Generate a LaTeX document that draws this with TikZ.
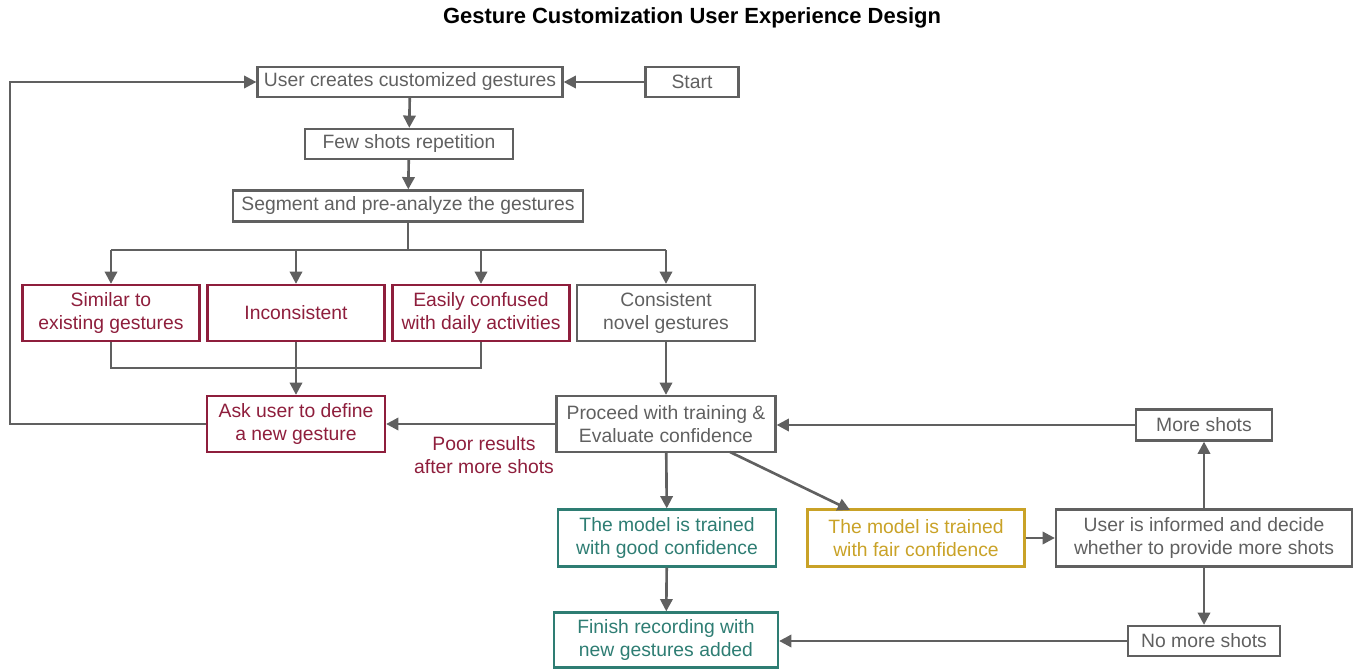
\documentclass[tikz,border=0pt]{standalone}
\usepackage{fontspec}
\setmainfont{Liberation Sans}
\usetikzlibrary{arrows.meta}
\definecolor{boxgray}{HTML}{606060}
\definecolor{badred}{HTML}{8E1E3C}
\definecolor{goodteal}{HTML}{2E7D73}
\definecolor{fairgold}{HTML}{C9A227}

\begin{document}
\begin{tikzpicture}[x=0.02cm,y=-0.02cm,
    box/.style={draw=boxgray,text=boxgray,line width=1.3pt,align=center,inner sep=0pt,
      font=\fontsize{11}{13}\selectfont},
    badbox/.style={box,draw=badred,text=badred},
    goodbox/.style={box,draw=goodteal,text=goodteal},
    fairbox/.style={box,draw=fairgold,text=fairgold},
    arr/.style={draw=boxgray,line width=1.5pt,-{Triangle[length=7pt,width=7pt]}},
    ln/.style={draw=boxgray,line width=1.5pt}]
    \useasboundingbox (0,0) rectangle (1353,669);

    \node[font=\bfseries\fontsize{12.5}{15}\selectfont] (title) at (692,18) {Gesture Customization User Experience Design};

    \node[box,minimum width=6.1cm,minimum height=0.6cm] (user) at (410,82) {User creates customized gestures};
    \node[box,minimum width=1.86cm,minimum height=0.6cm] (start) at (692,82) {Start};
    \node[box,minimum width=4.16cm,minimum height=0.6cm] (few) at (409,144) {Few shots repetition};
    \node[box,minimum width=7cm,minimum height=0.62cm] (seg) at (408,206) {Segment and pre-analyze the gestures};

    \node[badbox,minimum width=3.54cm,minimum height=1.12cm] (sim) at (111,313) {Similar to\\existing gestures};
    \node[badbox,minimum width=3.54cm,minimum height=1.12cm] (incons) at (296,313) {Inconsistent};
    \node[badbox,minimum width=3.54cm,minimum height=1.12cm] (easy) at (481,313) {Easily confused\\with daily activities};
    \node[box,minimum width=3.56cm,minimum height=1.12cm] (cons) at (666,313) {Consistent\\novel gestures};

    \node[badbox,minimum width=3.56cm,minimum height=1.12cm] (ask) at (296,424) {Ask user to define\\a new gesture};
    \node[box,minimum width=4.38cm,minimum height=1.12cm] (proceed) at (666,424) {Proceed with training \&\\Evaluate confidence};
    \node[box,minimum width=2.72cm,minimum height=0.62cm] (more) at (1204,425) {More shots};

    \node[goodbox,minimum width=4.36cm,minimum height=1.14cm] (good) at (667,538) {The model is trained\\with good confidence};
    \node[fairbox,minimum width=4.34cm,minimum height=1.14cm] (fair) at (916,538) {The model is trained\\with fair confidence};
    \node[box,minimum width=5.92cm,minimum height=1.14cm] (inform) at (1204,538) {User is informed and decide\\whether to provide more shots};

    \node[goodbox,minimum width=4.48cm,minimum height=1.1cm] (finish) at (666,640) {Finish recording with\\new gestures added};
    \node[box,minimum width=3.04cm,minimum height=0.6cm] (nomore) at (1204,641) {No more shots};

    \node[text=badred,align=center,font=\fontsize{11}{13}\selectfont] (poor) at (484,455) {Poor results\\after more shots};

    % top chain
    \draw[arr] (start) -- (user);
    \draw[arr] (user) -- (few);
    \draw[arr] (few) -- (seg);

    % split into the four outcomes
    \draw[ln] (seg.south) -- (408,250);
    \draw[ln] (111,250) -- (666,250);
    \foreach \n in {sim,incons,easy,cons}
      \draw[arr] (\n |- 0,250) -- (\n.north);

    % merge the rejected ones
    \draw[ln] (sim.south) |- (481,368) -- (easy.south);
    \draw[arr] (incons) -- (ask);
    \draw[arr] (cons) -- (proceed);

    % back to the start
    \draw[arr] (ask.west) -- (10,424) -- (10,82) -- (user.west);

    % training results
    \draw[arr] (proceed) -- (ask);
    \draw[arr] (proceed) -- (good);
    \draw[arr] (730,452) -- (850,510);
    \draw[arr] (good) -- (finish);
    \draw[arr] (fair) -- (inform);
    \draw[arr] (inform) -- (more);
    \draw[arr] (inform) -- (nomore);
    \draw[arr] (more.west) -- (more.west -| proceed.east);
    \draw[arr] (nomore.west) -- (nomore.west -| finish.east);
\end{tikzpicture}
\end{document}
